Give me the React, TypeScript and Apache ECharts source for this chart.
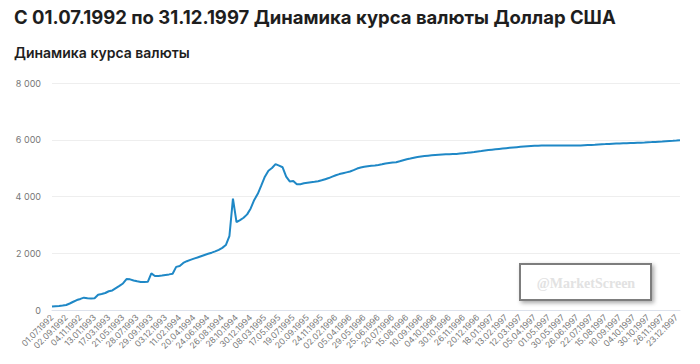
import React, { useEffect, useRef } from "react";
import * as echarts from "echarts";

const titleText = "С 01.07.1992 по 31.12.1997 Динамика курса валюты Доллар США";
const subtitleText = "Динамика курса валюты";
const watermarkText = "@MarketScreen";

// Dates shown on the x axis (every 4th category)
const labelDates = [
  "01.07.1992", "02.09.1992", "04.11.1992", "13.01.1993", "17.03.1993", "21.05.1993",
  "28.07.1993", "29.09.1993", "03.12.1993", "11.02.1994", "20.04.1994", "24.06.1994",
  "26.08.1994", "28.10.1994", "30.12.1994", "08.03.1995", "17.05.1995", "19.07.1995",
  "20.09.1995", "24.11.1995", "02.02.1996", "05.04.1996", "29.05.1996", "25.06.1996",
  "20.07.1996", "15.08.1996", "10.09.1996", "04.10.1996", "30.10.1996", "26.11.1996",
  "20.12.1996", "18.01.1997", "13.02.1997", "12.03.1997", "05.04.1997", "01.05.1997",
  "30.05.1997", "26.06.1997", "22.07.1997", "15.08.1997", "10.09.1997", "04.10.1997",
  "30.10.1997", "26.11.1997", "23.12.1997",
];
const endDate = "31.12.1997";
const pointsPerLabel = 4;

// USD/RUB rate (one value per category)
const rate = [
  120, 130, 140, 155,
  175, 230, 290, 350,
  390, 435, 415, 405,
  412, 540, 564, 600,
  660, 690, 770, 850,
  935, 1090, 1080, 1040,
  1010, 990, 990, 995,
  1290, 1200, 1200, 1215,
  1235, 1255, 1280, 1520,
  1552, 1660, 1720, 1765,
  1810, 1850, 1895, 1940,
  1980, 2020, 2065, 2120,
  2190, 2290, 2600, 3926,
  3100, 3170, 3250, 3370,
  3580, 3880, 4095, 4390,
  4700, 4910, 5005, 5140,
  5090, 5030, 4700, 4530,
  4545, 4433, 4435, 4465,
  4485, 4505, 4518, 4535,
  4570, 4610, 4650, 4700,
  4750, 4790, 4820, 4850,
  4880, 4930, 4985, 5020,
  5045, 5065, 5085, 5095,
  5110, 5135, 5165, 5180,
  5195, 5208, 5240, 5280,
  5315, 5340, 5368, 5390,
  5408, 5425, 5438, 5450,
  5462, 5470, 5478, 5485,
  5490, 5497, 5502, 5515,
  5528, 5540, 5553, 5566,
  5585, 5602, 5620, 5637,
  5650, 5663, 5676, 5689,
  5702, 5714, 5726, 5738,
  5750, 5761, 5770, 5778,
  5785, 5791, 5796, 5798,
  5800, 5800, 5800, 5795,
  5793, 5793, 5793, 5794,
  5796, 5800, 5806, 5812,
  5818, 5824, 5832, 5840,
  5846, 5854, 5859, 5864,
  5869, 5874, 5879, 5884,
  5888, 5893, 5897, 5902,
  5910, 5917, 5925, 5933,
  5940, 5948, 5955, 5962,
  5970, 5980,
];

const yTicks = { min: 0, max: 8000, interval: 2000 };

function parseDate(s: string): Date {
  const [d, m, y] = s.split(".").map(Number);
  return new Date(Date.UTC(y, m - 1, d));
}
function fmtDate(t: Date): string {
  const p = (n: number) => String(n).padStart(2, "0");
  return `${p(t.getUTCDate())}.${p(t.getUTCMonth() + 1)}.${t.getUTCFullYear()}`;
}
function buildCategories(): string[] {
  const out: string[] = [];
  for (let i = 0; i < labelDates.length - 1; i++) {
    const a = parseDate(labelDates[i]).getTime();
    const b = parseDate(labelDates[i + 1]).getTime();
    out.push(labelDates[i]);
    for (let k = 1; k < pointsPerLabel; k++) {
      const day = 86400000;
      const t = a + Math.round(((b - a) / day) * (k / pointsPerLabel)) * day;
      out.push(fmtDate(new Date(t)));
    }
  }
  out.push(labelDates[labelDates.length - 1]);
  out.push(endDate);
  return out;
}

export default function App() {
  const ref = useRef<HTMLDivElement>(null);
  useEffect(() => {
    document.body.style.margin = "0";
    if (!ref.current) return;
    const chart = echarts.init(ref.current, undefined, { renderer: "svg" });
    const categories = buildCategories();
    chart.setOption({
      animation: false,
      backgroundColor: "#ffffff",
      title: [
        {
          text: titleText,
          left: 14,
          top: 7,
          padding: 0,
          textStyle: { fontFamily: "Inter", fontSize: 18.5, fontWeight: 700, color: "#1e1e1e" },
        },
        {
          text: subtitleText,
          left: 14,
          top: 45,
          padding: 0,
          textStyle: { fontFamily: "Inter", fontSize: 14, fontWeight: 600, color: "#1e1e1e" },
        },
      ],
      grid: { left: 52, right: 20, top: 83, bottom: 54, containLabel: false },
      xAxis: {
        type: "category",
        data: categories,
        boundaryGap: false,
        axisLine: { lineStyle: { color: "#dde2ec", width: 1 } },
        axisTick: { show: false },
        axisLabel: {
          interval: pointsPerLabel - 1,
          rotate: 45,
          fontSize: 8.5,
          color: "#7a7a7a",
          fontFamily: "Inter",
          margin: 6,
        },
        splitLine: { show: false },
      },
      yAxis: {
        type: "value",
        min: yTicks.min,
        max: yTicks.max,
        interval: yTicks.interval,
        axisLine: { show: false },
        axisTick: { show: false },
        axisLabel: {
          fontSize: 9,
          color: "#777",
          fontFamily: "Inter",
          margin: 11,
          formatter: (v: number) => String(v).replace(/\B(?=(\d{3})+(?!\d))/g, " "),
        },
        splitLine: { lineStyle: { color: "#eeeeee", width: 1 } },
      },
      series: [
        {
          type: "line",
          data: rate,
          showSymbol: false,
          symbol: "none",
          lineStyle: { color: "#1f88c6", width: 2 },
          itemStyle: { color: "#1f88c6" },
        },
      ],
      graphic: [
        {
          type: "rect",
          shape: { x: 520, y: 264, width: 131, height: 36 },
          style: {
            fill: "#ffffff",
            stroke: "#7d7d7d",
            lineWidth: 2,
            shadowBlur: 4,
            shadowColor: "rgba(0,0,0,0.35)",
            shadowOffsetX: 2,
            shadowOffsetY: 2,
          },
          z: 100,
        },
        {
          type: "text",
          style: {
            text: watermarkText,
            x: 586,
            y: 283,
            align: "center",
            verticalAlign: "middle",
            font: 'bold 14px "Liberation Serif"',
            fill: "#e2e2e2",
            shadowColor: "rgba(0,0,0,0.9)",
            shadowBlur: 2,
            shadowOffsetX: 1,
            shadowOffsetY: 1,
          },
          z: 101,
        },
      ],
    });
    return () => chart.dispose();
  }, []);
  return <div ref={ref} style={{ width: 700, height: 364 }} />;
}
